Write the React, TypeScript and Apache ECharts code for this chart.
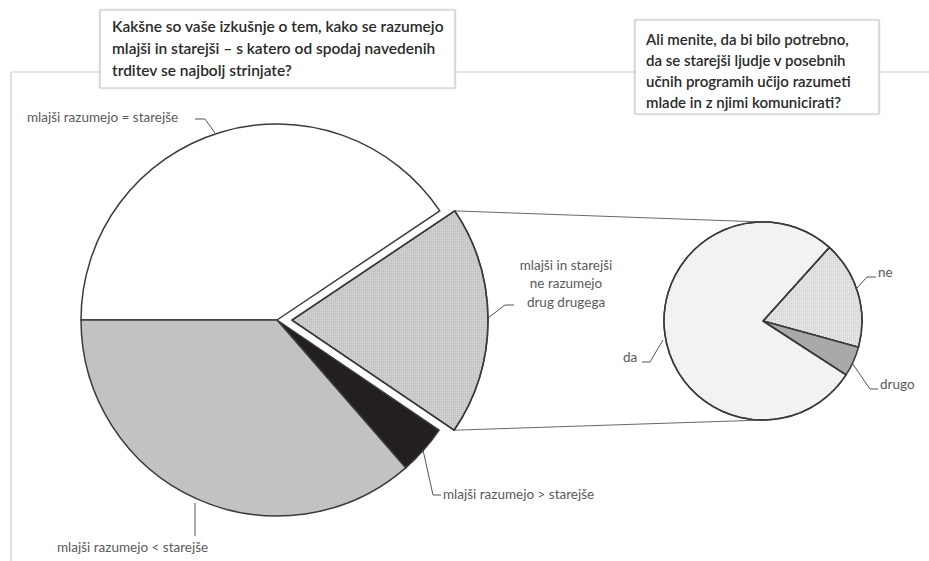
import React, { useEffect, useRef } from "react";
import * as echarts from "echarts";

const mainCategories = [
  "mlajši razumejo = starejše",
  "mlajši in starejši\nne razumejo\ndrug drugega",
  "mlajši razumejo > starejše",
  "mlajši razumejo < starejše",
];
const mainValues = [40.6, 18.9, 4.1, 36.4];
const subCategories = ["ne", "drugo", "da"];
const subValues = [17.6, 4.9, 77.5];
const titleLeft = [
  "Kakšne so vaše izkušnje o tem, kako se razumejo",
  "mlajši in starejši – s katero od spodaj navedenih",
  "trditev se najbolj strinjate?",
];
const titleRight = [
  "Ali menite, da bi bilo potrebno,",
  "da se starejši ljudje v posebnih",
  "učnih programih učijo razumeti",
  "mlade in z njimi komunicirati?",
];

const EXPLODED = 1;

export default function App() {
  const ref = useRef<HTMLDivElement>(null);
  useEffect(() => {
    document.body.style.margin = "0";
    const chart = echarts.init(ref.current!, null, { renderer: "svg" });

    const C1 = [277, 320];
    const R1 = 196;
    const OFF = 15;
    const START1 = 180;
    const C2 = [763, 321];
    const R2 = 99;
    const START2 = 48;

    const total = mainValues.reduce((a, b) => a + b, 0);
    let before = 0;
    for (let i = 0; i < EXPLODED; i++) before += mainValues[i];
    const a0 = START1 - (before / total) * 360;
    const a1 = a0 - (mainValues[EXPLODED] / total) * 360;
    const am = (a0 + a1) / 2;
    const rad = (d: number) => (d * Math.PI) / 180;
    const ox = C1[0] + OFF * Math.cos(rad(am));
    const oy = C1[1] - OFF * Math.sin(rad(am));
    const p0 = [ox + R1 * Math.cos(rad(a0)), oy - R1 * Math.sin(rad(a0))];
    const p1 = [ox + R1 * Math.cos(rad(a1)), oy - R1 * Math.sin(rad(a1))];

    const dot = (c: string) => ({
      symbol: "rect",
      symbolSize: 1,
      color: c,
      dashArrayX: [1, 1],
      dashArrayY: [1, 1],
      rotation: 0,
    });

    const mainColors = ["#ffffff", "#c4c5c7", "#231f20", "#c1c2c4"];
    const explodedDecal = dot("rgba(255,255,255,0.35)");
    const subColors = ["#d9dadc", "#a8a9ab", "#f0f0f0"];
    const subDecals: any[] = [dot("rgba(255,255,255,0.5)"), null, dot("rgba(255,255,255,0.6)")];

    const mainLabelPos: any[] = [
      { x: 27, y: 117, align: "left", pts: [[215, 133], [205, 119], [195, 119]] },
      { x: 566, y: 283, align: "center", pts: [[488, 318], [505, 305], [514, 305]] },
      { x: 443, y: 494, align: "left", pts: [[423, 450], [433, 495], [441, 495]] },
      { x: 57, y: 547, align: "left", pts: [[195, 503], [195, 536], [195, 536]] },
    ];
    const subLabelPos: any[] = [
      { x: 878, y: 272, align: "left", pts: [[857, 288], [867, 277], [876, 277]] },
      { x: 880, y: 384, align: "left", pts: [[850, 360], [870, 389], [878, 389]] },
      { x: 623, y: 357, align: "left", pts: [[663, 340], [650, 362], [642, 362]] },
    ];

    const labelStyle = {
      show: true,
      position: "outside",
      color: "#5a5a5a",
      fontFamily: "Lato",
      fontSize: 13.5,
      lineHeight: 18.5,
      overflow: "none",
    };
    const labelLine = { show: true, lineStyle: { color: "#555", width: 1 } };
    const border = { borderColor: "#3a3a3a", borderWidth: 1.5 };

    const gline = (x1: number, y1: number, x2: number, y2: number, c = "#cdcdcd", w = 1.2) => ({
      type: "line",
      shape: { x1, y1, x2, y2 },
      style: { stroke: c, lineWidth: w },
      silent: true,
    });

    const textBlock = (lines: string[], x: number, y: number, lh: number, fs: number) => ({
      type: "text",
      x,
      y,
      style: {
        text: lines.join("\n"),
        fill: "#2a2a2a",
        font: `600 ${fs}px Lato`,
        lineHeight: lh,
      },
      silent: true,
    });

    chart.setOption({
      animation: false,
      backgroundColor: "#ffffff",
      graphic: [
        gline(11, 72, 929, 72),
        gline(11, 72, 11, 561),
        {
          type: "rect",
          shape: { x: 100, y: 10, width: 355, height: 78 },
          style: { fill: "#fff", stroke: "#c6c6c6", lineWidth: 1.2, shadowBlur: 2, shadowColor: "rgba(0,0,0,0.15)" },
          silent: true,
        },
        textBlock(titleLeft, 112, 15, 22, 15.5),
        {
          type: "rect",
          shape: { x: 635, y: 20, width: 244, height: 94 },
          style: { fill: "#fff", stroke: "#c6c6c6", lineWidth: 1.2, shadowBlur: 2, shadowColor: "rgba(0,0,0,0.15)" },
          silent: true,
        },
        textBlock(titleRight, 646, 28, 21, 15),
        gline(p0[0], p0[1], C2[0], C2[1] - R2, "#666", 1),
        gline(p1[0], p1[1], C2[0], C2[1] + R2, "#666", 1),
      ],
      series: [
        {
          type: "pie",
          center: C1,
          radius: R1,
          startAngle: START1,
          clockwise: true,
          silent: true,
          emphasis: { disabled: true },
          label: labelStyle,
          labelLine,
          labelLayout: (p: any) => {
            const o = mainLabelPos[p.dataIndex];
            return { x: o.x, y: o.y, align: o.align, verticalAlign: "middle", labelLinePoints: o.pts };
          },
          data: mainCategories.map((name, i) => ({
            name,
            value: mainValues[i],
            itemStyle:
              i === EXPLODED
                ? { color: "rgba(0,0,0,0)", borderWidth: 0 }
                : { color: mainColors[i], ...border },
          })),
          z: 2,
        },
        {
          type: "pie",
          center: [ox, oy],
          radius: R1,
          startAngle: START1,
          clockwise: true,
          silent: true,
          emphasis: { disabled: true },
          label: { show: false },
          labelLine: { show: false },
          data: mainCategories.map((name, i) => ({
            name,
            value: mainValues[i],
            itemStyle:
              i === EXPLODED
                ? { color: mainColors[i], decal: explodedDecal, ...border }
                : { color: "rgba(0,0,0,0)", borderWidth: 0 },
          })),
          z: 3,
        },
        {
          type: "pie",
          center: C2,
          radius: R2,
          startAngle: START2,
          clockwise: true,
          silent: true,
          emphasis: { disabled: true },
          label: labelStyle,
          labelLine,
          labelLayout: (p: any) => {
            const o = subLabelPos[p.dataIndex];
            return { x: o.x, y: o.y, align: o.align, verticalAlign: "middle", labelLinePoints: o.pts };
          },
          data: subCategories.map((name, i) => ({
            name,
            value: subValues[i],
            itemStyle: { color: subColors[i], decal: subDecals[i], ...border },
          })),
        },
      ],
    });
    return () => chart.dispose();
  }, []);
  return (
    <div
      ref={ref}
      style={{ position: "absolute", left: 0, top: 0, width: 929, height: 561 }}
    />
  );
}
